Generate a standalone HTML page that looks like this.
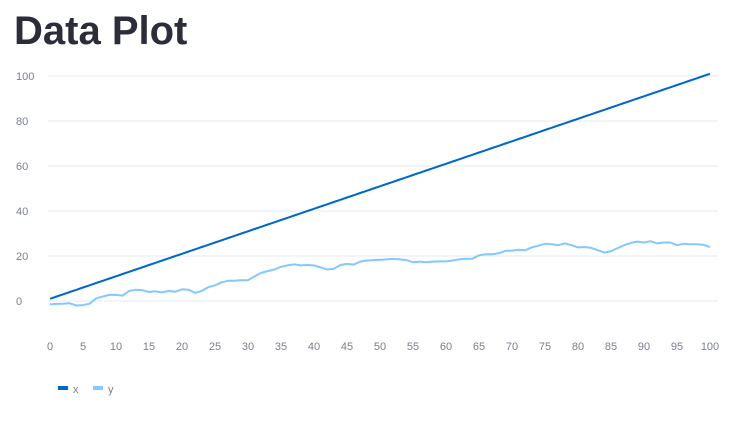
<!DOCTYPE html>
<html><head><meta charset="utf-8"><style>
body{margin:0;background:#fff;width:742px;height:423px;overflow:hidden;font-family:"Liberation Sans",sans-serif}
h1{position:absolute;left:14px;top:9px;margin:0;font-size:40px;font-weight:bold;color:#2b2d3b;letter-spacing:0}
svg{position:absolute;left:0;top:0}
text{font-family:"Liberation Sans",sans-serif;font-size:11px;fill:#7a7f90}
</style></head><body>
<h1>Data Plot</h1>
<svg id="c" width="742" height="423"></svg>
<script>
const xTicks=[0,5,10,15,20,25,30,35,40,45,50,55,60,65,70,75,80,85,90,95,100];
const yTicks=[0,20,40,60,80,100];
const xSeries=[];for(let i=0;i<=100;i++)xSeries.push(i+1);
const ySeries=[-1.5,-1.3,-1.2,-1,-2,-1.8,-1.2,1.2,2,2.7,2.7,2.4,4.5,5,4.8,4,4.3,3.8,4.5,4.1,5.2,5,3.6,4.5,6.2,7,8.3,9,9,9.3,9.2,11,12.5,13.3,14,15.2,15.8,16.3,15.8,16,15.8,15,14,14.3,16,16.5,16.2,17.5,18,18.2,18.3,18.5,18.7,18.5,18.2,17.2,17.5,17.2,17.5,17.6,17.6,18,18.5,18.8,18.8,20.3,20.8,20.8,21.2,22.3,22.4,22.8,22.6,23.8,24.6,25.4,25.2,24.8,25.6,24.8,23.8,24,23.6,22.6,21.5,22.2,23.5,24.8,25.8,26.4,26,26.6,25.6,26,26,24.8,25.4,25.2,25.2,25,24];
const X=v=>50+v*6.6, Y=v=>301-v*2.25;
const s=document.getElementById('c'),NS='http://www.w3.org/2000/svg';
function mk(t,a,p){const e=document.createElementNS(NS,t);for(const k in a)e.setAttribute(k,a[k]);(p||s).appendChild(e);return e;}
yTicks.forEach(v=>{
 const l=mk('line',{x1:48,x2:718,y1:Y(v),y2:Y(v),stroke:'#e6e9ef','stroke-width':1});
 
 
 const t=mk('text',{x:16,y:Y(v)+4});t.textContent=v;
 
 
});
xTicks.forEach(v=>{
 const t=mk('text',{x:X(v),y:350,'text-anchor':'middle'});t.textContent=v;
 
 
});
function line(arr,col,name){
 const d=arr.map((v,i)=>(i?'L':'M')+X(i).toFixed(1)+','+Y(v).toFixed(1)).join('');
 const p=mk('path',{d:d,fill:'none',stroke:col,'stroke-width':2,'stroke-linejoin':'round'});
 
 
}
line(xSeries,'#0068c9','series-x-line');
line(ySeries,'#83c9ff','series-y-line');
[['x','#0068c9',58],['y','#83c9ff',93]].forEach(([n,c,x])=>{
 const g=mk('g',{});
 
 
 mk('rect',{x:x,y:386,width:10,height:4,fill:c},g);
 const t=mk('text',{x:x+15,y:393,'font-size':'13'},g);t.textContent=n;
});
</script>
</body></html>
